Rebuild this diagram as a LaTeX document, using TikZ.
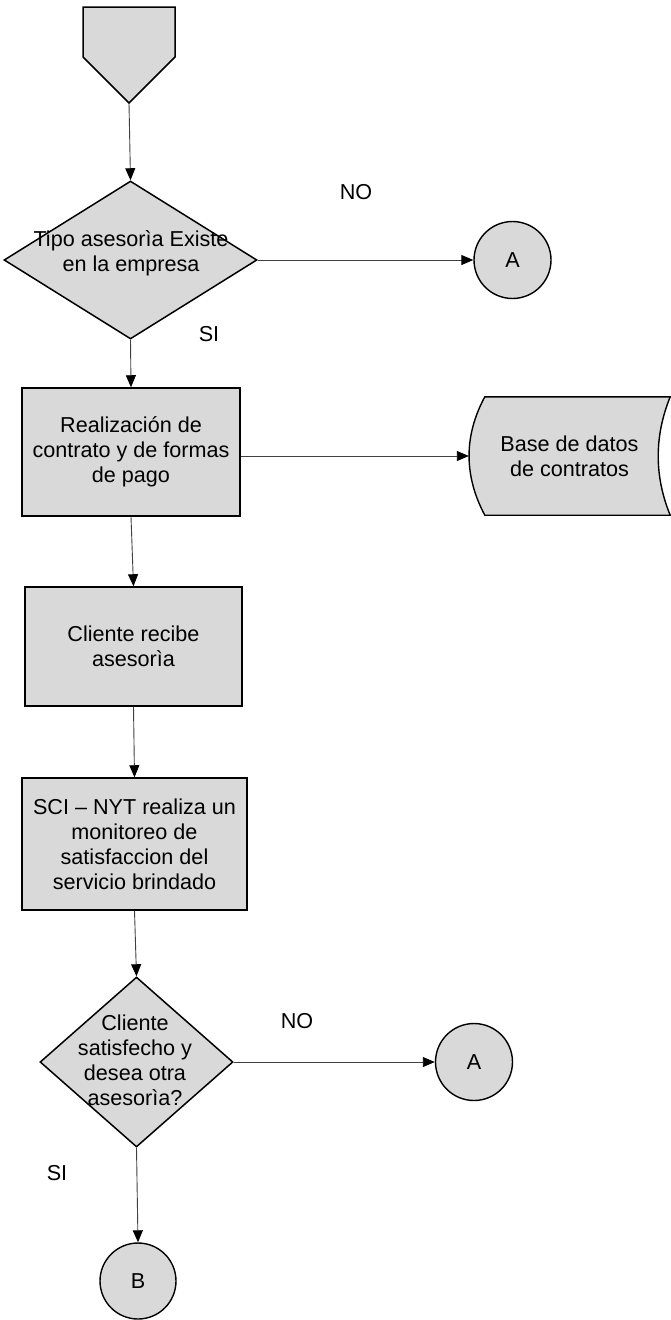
\documentclass[tikz,border=0pt]{standalone}
\usepackage{fontspec}
\setmainfont{Liberation Sans}
\usetikzlibrary{shapes.geometric,arrows.meta,calc,backgrounds}

\tikzset{
  box/.style={draw, line width=1.5pt, fill=black!15, align=center, inner sep=0pt},
  decision/.style={diamond, draw, line width=1.5pt, fill=black!15, inner sep=0pt},
  connector/.style={circle, draw, line width=1.4pt, fill=black!15, inner sep=0pt, minimum size=77pt},
  flow/.style={line width=0.9pt, black!75, -{Triangle[length=12pt,width=10pt,black]}},
  answer/.style={inner sep=0pt}
}

\begin{document}
\begin{tikzpicture}[x=1pt, y=-1pt,
  every node/.style={font=\fontsize{21.6pt}{25pt}\selectfont}]
\useasboundingbox (0,0) rectangle (671,1320);

\draw[line width=1.5pt, fill=black!15] (83,7) -- (175,7) -- (175,57) -- (129,103) -- (83,57) -- cycle;
\coordinate (start) at (129,103);

\node[decision, minimum width=253pt, minimum height=158pt] (q1) at (130.5,260) {};
\node[answer, align=center] (q1t) at (131,253) {Tipo asesorìa Existe\\en la empresa};
\node[connector] (a1) at (512.5,260) {A};
\node[answer] (no1) at (356,192) {NO};
\node[answer] (si1) at (209,334) {SI};

\node[box, minimum width=218pt, minimum height=128pt] (p1) at (131,452) {Realización de\\contrato y de formas\\de pago};
\node[align=center, inner sep=0pt, minimum width=201pt, minimum height=118pt] (db) at (569.5,456) {Base de datos\\de contratos};
\begin{scope}[on background layer]
\draw[line width=1.4pt, fill=black!15] ($(db.north west)+(16,0)$)
  .. controls ($(db.north west)+(-5,39)$) and ($(db.north west)+(-5,79)$) .. ($(db.south west)+(16,0)$)
  -- (db.south east)
  .. controls ($(db.south east)+(-16,-39)$) and ($(db.south east)+(-16,-79)$) .. (db.north east)
  -- cycle;
\end{scope}

\node[box, minimum width=217pt, minimum height=119pt] (p2) at (133.5,646.5) {Cliente recibe\\asesorìa};
\node[box, minimum width=225pt, minimum height=132pt] (p3) at (134.5,844) {SCI -- NYT realiza un\\monitoreo de\\satisfaccion del\\servicio brindado};

\node[decision, minimum width=193pt, minimum height=170pt] (q2) at (136.5,1062) {};
\node[answer, align=center] (q2t) at (135,1060) {Cliente\\satisfecho y\\desea otra\\asesorìa?};
\node[connector] (a2) at (474,1062) {A};
\node[answer] (no2) at (297,1021) {NO};
\node[answer] (si2) at (57,1173) {SI};
\node[connector, minimum size=76pt] (b) at (138,1281) {B};

\draw[flow] (start) -- (q1.north);
\draw[flow] (q1.east) -- (a1.west);
\draw[flow] (q1.south) -- (p1.north);
\draw[flow] (p1.east |- db.west) -- (db.west);
\draw[flow] (p1.south) -- (p2.north);
\draw[flow] (p2.south) -- (p3.north);
\draw[flow] (p3.south) -- (q2.north);
\draw[flow] (q2.east) -- (a2.west);
\draw[flow] (q2.south) -- (b.north);
\end{tikzpicture}
\end{document}
